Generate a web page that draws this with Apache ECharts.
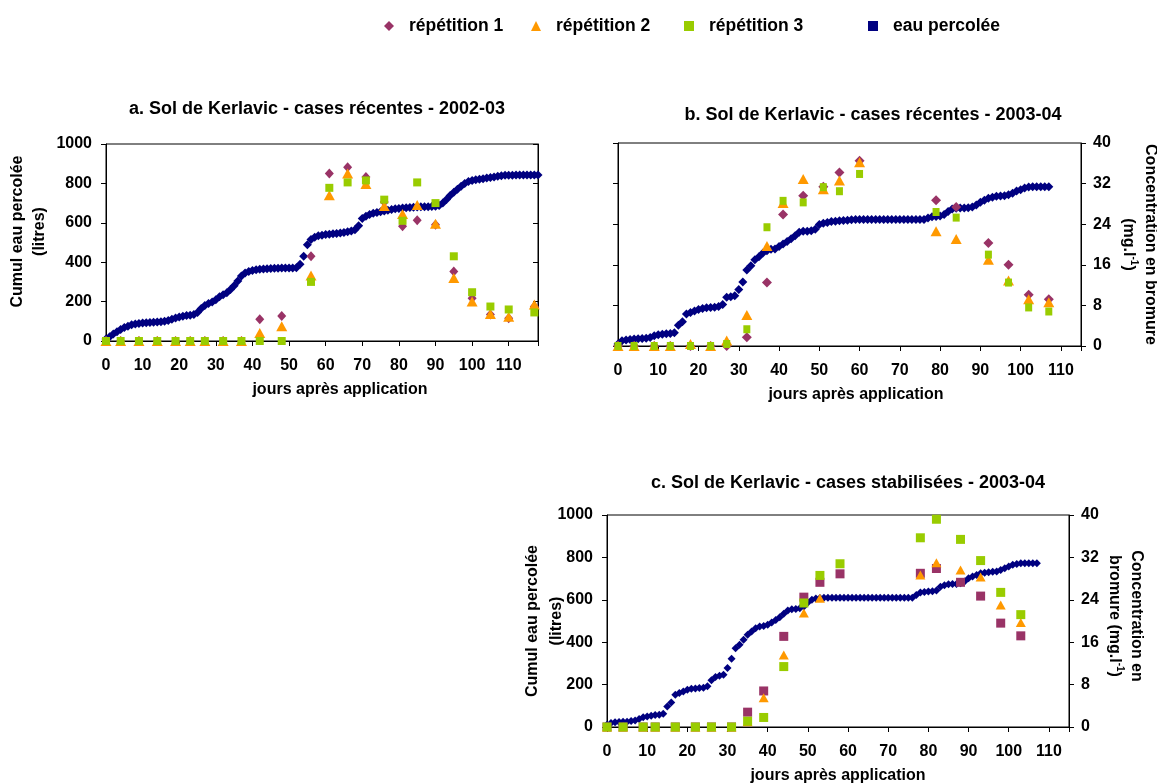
<!DOCTYPE html>
<html><head><meta charset="utf-8">
<script src="https://cdn.jsdelivr.net/npm/echarts@6/dist/echarts.min.js"></script>
<style>html,body{margin:0;padding:0;background:#fff}#c{width:1157px;height:783px}</style>
</head><body><div id="c"></div><script>
// ---------- DATA ----------
// Panel a (2002-03): cumulative percolated water (litres), one value per day from day 0
const eauA = [10,22,35,47,58,68,75,82,86,89, 91,93,94,95,96,98,100,104,110,117,
  122,126,129,131,134,145,165,180,190,198, 210,225,235,245,262,280,305,330,345,353,
  358,362,364,366,367,368,369,369,370,370, 370,371,372,390,430,488,515,527,534,537,
  540,542,544,546,548,551,554,558,565,585, 622,633,642,648,652,656,660,664,668,671,
  673,675,677,678,679,680,681,682,682,683, 684,688,700,718,738,755,770,785,800,810,
  815,818,821,824,827,830,833,836,839,841, 842,842,843,843,843,843,843,843,843];
const daysA = [0,4,9,14,19,23,27,32,37,42,48,56,61,66,71,76,81,85,90,95,100,105,110,117];
const rep1A = [0,0,0,0,0,0,0,0,0,4.4,5.1,17.2,34.0,35.3,33.3,28.2,23.3,24.5,23.6,14.1,8.7,5.4,4.6,7.0];
const rep2A = [0,0,0,0,0,0,0,0,0,1.6,3.0,13.3,29.6,34.0,31.9,27.4,25.8,27.6,23.8,12.8,8.0,5.5,4.9,7.4];
const rep3A = [0,0,0,0,0,0,0,0,0,0,0,12.0,31.1,32.2,32.6,28.7,24.4,32.2,28.0,17.2,9.9,7.0,6.4,5.8];

// Panel b (2003-04 récentes)
const eauB = [10,26,30,32,34,36,37,38,42,50, 55,58,60,62,65,102,120,158,165,172,
  180,185,188,190,191,195,205,240,243,248, 278,315,375,395,425,440,458,469,477,478,
  490,503,515,528,543,560,565,565,568,575, 598,605,608,613,615,617,618,620,622,623,
  623,623,623,623,623,623,623,623,623,623,623,623,623,623,623,623,623,
  630,637,638,640,648,663,675,678,680,680,681,685,695,708,718,728,733,738,739,740,
  745,753,763,770,778,783,785,785,785,785,785];
const daysB = [0,4,9,13,18,23,27,32,37,41,46,51,55,60,79,84,92,97,102,107];
const rep1B = [0,0,0,0,0,0,0,1.7,12.5,25.9,29.6,31.4,34.2,36.5,28.7,27.4,20.3,16.0,10.1,9.2];
const rep2B = [0,0,0,0,0.4,0,1.1,6.1,19.7,28.2,32.9,30.9,32.6,36.2,22.6,21.1,17.0,12.9,9.2,8.6];
const rep3B = [0,0,0,0,0,0,0.4,3.3,23.4,28.6,28.3,31.3,30.5,33.9,26.4,25.3,18.0,12.5,7.6,6.8];

// Panel c (2003-04 stabilisées)
const eauC = [11,19,22,24,25,25,28,31,38,46, 50,53,57,58,63,97,116,152,160,168,
  176,181,182,184,185,192,220,236,242,246, 278,322,372,388,411,435,451,466,474,477,
  482,493,505,518,534,549,556,557,560,568, 587,600,606,609,
  610,610,610,610,610,610,610,610,610,610,610,610,610,610,610,610,610,610,610,610,610,610,610,
  623,634,637,639,640,644,662,669,673,675,675,678,686,702,710,717,725,728,730,732,
  733,741,749,757,765,769,772,772,772,772,772];
const daysC = [0,4,9,12,17,22,26,31,35,39,44,49,53,58,78,82,88,93,98,103];
const rep1C = [0,0,0,0,0,0,0,0,2.8,6.8,17.1,24.5,27.3,28.9,29.0,29.9,27.3,24.7,19.6,17.2];
const rep2C = [0,0,0,0,0,0,0,0,1.0,5.5,13.6,21.5,24.3,null,28.7,31.0,29.6,28.3,23.0,19.7];
const rep3C = [0,0,0,0,0,0,0,0,1.1,1.8,11.4,23.4,28.6,30.8,35.7,39.2,35.4,31.4,25.4,21.2];

const titles = ['a. Sol de Kerlavic - cases récentes - 2002-03',
                'b. Sol de Kerlavic - cases récentes - 2003-04',
                'c. Sol de Kerlavic - cases stabilisées - 2003-04'];
const xName = 'jours après application';
const litresName = 'Cumul eau percolée\n(litres)';
const legendNames = ['répétition 1','répétition 2','répétition 3','eau percolée'];

// ---------- BUILD ----------
const FONT = "'Liberation Sans', Arial, sans-serif";
const NAVY = '#000080', PURPLE = '#993366', ORANGE = '#FF9900', GREEN = '#99CC00';
const pairs = (xs, ys) => xs.map((x, i) => [x, ys[i]]);
const daily = ys => ys.map((v, i) => [i, v]);

const chart = echarts.init(document.getElementById('c'), null, {renderer: 'canvas'});
const lblStyle = {color: '#000', fontSize: 16, fontWeight: 'bold', fontFamily: FONT};
const nameStyle = (extra, lh) => Object.assign({color: '#000', fontSize: 16, fontWeight: 'bold', fontFamily: FONT, lineHeight: lh || 22,
  rich: {sup: {fontSize: 10, fontWeight: 'bold', fontFamily: FONT, verticalAlign: 'top', lineHeight: lh || 22}}}, extra || {});

function xAx(gi, max, pad) {
  return {type: 'value', gridIndex: gi, min: 0, max: max, interval: 10,
    axisLine: {show: true, onZero: false, lineStyle: {color: '#000', width: 1}},
    axisTick: {show: true, inside: false, length: 5, lineStyle: {color: '#000'}},
    axisLabel: Object.assign({margin: 17, formatter: v => (v % 10 === 0 ? String(v) : '')}, lblStyle),
    splitLine: {show: false},
    name: xName, nameLocation: 'middle', nameGap: 38, nameMoveOverlap: false,
    nameTextStyle: nameStyle({padding: [0, 0, 0, pad]})};
}
function yLit(gi, showLabels, gap, padTop, lh) {
  return {type: 'value', gridIndex: gi, position: 'left', min: 0, max: 1000, interval: 200,
    axisLine: {show: true, lineStyle: {color: '#000'}},
    axisTick: {show: true, length: 5, lineStyle: {color: '#000'}},
    axisLabel: Object.assign({show: showLabels, margin: 14, formatter: v => String(v)}, lblStyle),
    splitLine: {show: false},
    name: showLabels ? litresName : '', nameLocation: 'middle', nameRotate: 90, nameGap: gap, nameMoveOverlap: false,
    nameTextStyle: nameStyle({padding: [0, 0, 0, padTop]}, lh)};
}
function yConc(gi, showLabels, inside, name, gap, padR) {
  return {type: 'value', gridIndex: gi, position: 'right', min: 0, max: 40, interval: 8,
    axisLine: {show: true, lineStyle: {color: '#000'}},
    axisTick: {show: true, inside: inside, length: 5, lineStyle: {color: '#000'}},
    axisLabel: Object.assign({show: showLabels, margin: 12, formatter: v => String(v)}, lblStyle),
    splitLine: {show: false},
    name: name, nameLocation: 'middle', nameRotate: -90, nameGap: gap, nameMoveOverlap: false,
    nameTextStyle: nameStyle({padding: [0, padR, 0, 0]})};
}
function sc(name, xi, yi, data, symbol, size, color) {
  return {type: 'scatter', name: name, xAxisIndex: xi, yAxisIndex: yi, data: data,
    symbol: symbol, symbolSize: size, itemStyle: {color: color, opacity: 1},
    emphasis: {disabled: true}, silent: true, animation: false, clip: false};
}
const legendAt = (name, icon, left) => ({
  data: [{name: name, icon: icon}], left: left, top: 17, itemWidth: 10, itemHeight: 10,
  selectedMode: false, padding: 0,
  textStyle: {color: '#000', fontSize: 17.5, fontWeight: 'bold', fontFamily: FONT, padding: [0, 0, 0, 10]}
});
const titleText = (t, x, y) => ({type: 'text', x: x, y: y,
  style: {text: t, fill: '#000', font: 'bold 18px ' + FONT, textAlign: 'center', textVerticalAlign: 'middle',
          align: 'center', verticalAlign: 'middle'}});
const gridAt = (l, t, w, h) => ({left: l, top: t, width: w, height: h, show: true, borderColor: '#000', borderWidth: 1,
  backgroundColor: 'transparent', containLabel: false, outerBoundsMode: 'none'});

const option = {
  animation: false,
  backgroundColor: '#fff',
  textStyle: {fontFamily: FONT},
  legend: [
    legendAt(legendNames[0], 'diamond', 384),
    legendAt(legendNames[1], 'triangle', 531),
    legendAt(legendNames[2], 'rect', 684),
    legendAt(legendNames[3], 'rect', 868)
  ],
  graphic: [titleText(titles[0], 317, 109), titleText(titles[1], 873, 115), titleText(titles[2], 848, 483)],
  grid: [gridAt(106, 144, 432, 197), gridAt(618, 143, 463, 203), gridAt(607, 515, 462, 212)],
  xAxis: [xAx(0, 118, 36), xAx(1, 115, 13), xAx(2, 115, 0)],
  yAxis: [
    yLit(0, true, 55, 22, 22),
    yConc(0, false, true, '', 30, 0),
    yLit(1, false, 55, 0, 22),
    yConc(1, true, false, 'Concentration en bromure\n(mg.l{sup|-1})', 36, 0),
    yLit(2, true, 38, 0, 24),
    yConc(2, true, false, 'Concentration en\nbromure (mg.l{sup|-1})', 34, 10)
  ],
  series: [
    sc('eau percolée', 0, 0, daily(eauA), 'diamond', [9, 9], NAVY),
    sc('répétition 1', 0, 1, pairs(daysA, rep1A), 'diamond', [9, 10], PURPLE),
    sc('répétition 2', 0, 1, pairs(daysA, rep2A), 'triangle', [11, 10], ORANGE),
    sc('répétition 3', 0, 1, pairs(daysA, rep3A), 'rect', [8, 8], GREEN),

    sc('eau percolée', 1, 2, daily(eauB), 'diamond', [9, 9], NAVY),
    sc('répétition 1', 1, 3, pairs(daysB, rep1B), 'diamond', [10, 10], PURPLE),
    sc('répétition 2', 1, 3, pairs(daysB, rep2B), 'triangle', [11, 10], ORANGE),
    sc('répétition 3', 1, 3, pairs(daysB, rep3B), 'rect', [7, 8], GREEN),

    sc('eau percolée', 2, 4, daily(eauC), 'diamond', [8, 8], NAVY),
    sc('répétition 1', 2, 5, pairs(daysC, rep1C), 'rect', [9, 9], PURPLE),
    sc('répétition 2', 2, 5, pairs(daysC, rep2C), 'triangle', [10, 9], ORANGE),
    sc('répétition 3', 2, 5, pairs(daysC, rep3C), 'rect', [9, 9], GREEN)
  ]
};
chart.setOption(option);
</script></body></html>
